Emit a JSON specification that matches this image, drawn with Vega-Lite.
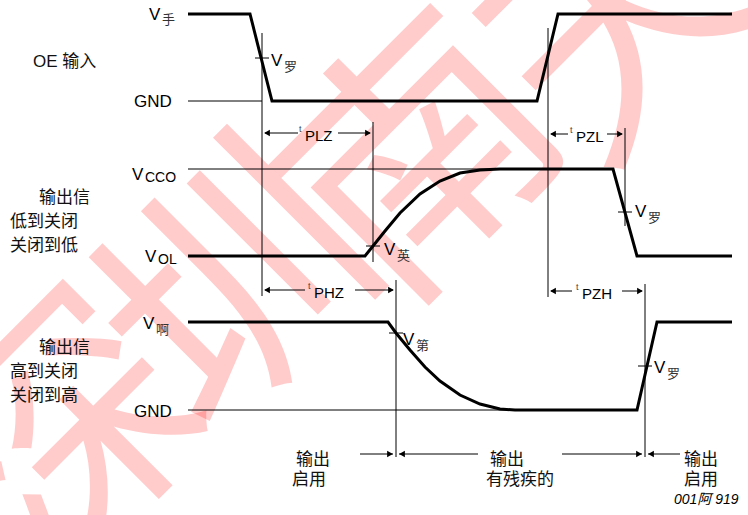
{
  "$schema": "https://vega.github.io/schema/vega-lite/v6.json",
  "width": 748,
  "height": 515,
  "padding": 0,
  "autosize": {"type": "none"},
  "background": "white",
  "config": {"view": {"stroke": null}},
  "datasets": {
    "wave": [
      {"id": "A", "o": 1, "x": 188, "y": 14}, {"id": "A", "o": 2, "x": 250, "y": 14}, {"id": "A", "o": 3, "x": 272, "y": 101},
      {"id": "A", "o": 4, "x": 537, "y": 101}, {"id": "A", "o": 5, "x": 558, "y": 14}, {"id": "A", "o": 6, "x": 732, "y": 14},
      {"id": "B", "o": 1, "x": 188, "y": 256}, {"id": "B", "o": 2, "x": 365, "y": 256}, {"id": "B", "o": 3, "x": 373, "y": 246},
      {"id": "B", "o": 4, "x": 385, "y": 231}, {"id": "B", "o": 5, "x": 400, "y": 213}, {"id": "B", "o": 6, "x": 420, "y": 194},
      {"id": "B", "o": 7, "x": 440, "y": 181}, {"id": "B", "o": 8, "x": 460, "y": 173}, {"id": "B", "o": 9, "x": 480, "y": 170},
      {"id": "B", "o": 10, "x": 500, "y": 169}, {"id": "B", "o": 11, "x": 613, "y": 169}, {"id": "B", "o": 12, "x": 637, "y": 256},
      {"id": "B", "o": 13, "x": 732, "y": 256},
      {"id": "C", "o": 1, "x": 188, "y": 322}, {"id": "C", "o": 2, "x": 388, "y": 322}, {"id": "C", "o": 3, "x": 396, "y": 333},
      {"id": "C", "o": 4, "x": 410, "y": 350}, {"id": "C", "o": 5, "x": 425, "y": 367}, {"id": "C", "o": 6, "x": 440, "y": 381},
      {"id": "C", "o": 7, "x": 460, "y": 395}, {"id": "C", "o": 8, "x": 480, "y": 404}, {"id": "C", "o": 9, "x": 500, "y": 409},
      {"id": "C", "o": 10, "x": 515, "y": 410}, {"id": "C", "o": 11, "x": 637, "y": 410}, {"id": "C", "o": 12, "x": 657, "y": 322},
      {"id": "C", "o": 13, "x": 732, "y": 322}
    ],
    "rules": [
      {"x": 188, "y": 101, "x2": 262, "y2": 101},
      {"x": 188, "y": 169, "x2": 500, "y2": 169},
      {"x": 188, "y": 410, "x2": 515, "y2": 410},
      {"x": 262, "y": 33, "x2": 262, "y2": 296},
      {"x": 548, "y": 28, "x2": 548, "y2": 297},
      {"x": 373, "y": 122, "x2": 373, "y2": 262},
      {"x": 625, "y": 128, "x2": 625, "y2": 226},
      {"x": 396, "y": 280, "x2": 396, "y2": 457},
      {"x": 645, "y": 284, "x2": 645, "y2": 457},
      {"x": 255, "y": 58, "x2": 269, "y2": 58},
      {"x": 366, "y": 246, "x2": 380, "y2": 246},
      {"x": 618, "y": 212, "x2": 632, "y2": 212},
      {"x": 389, "y": 333, "x2": 403, "y2": 333},
      {"x": 638, "y": 366, "x2": 652, "y2": 366},
      {"x": 265, "y": 133, "x2": 298, "y2": 133},
      {"x": 338, "y": 133, "x2": 370, "y2": 133},
      {"x": 551, "y": 134, "x2": 568, "y2": 134},
      {"x": 607, "y": 134, "x2": 622, "y2": 134},
      {"x": 265, "y": 290, "x2": 305, "y2": 290},
      {"x": 355, "y": 290, "x2": 393, "y2": 290},
      {"x": 551, "y": 291, "x2": 572, "y2": 291},
      {"x": 622, "y": 291, "x2": 642, "y2": 291},
      {"x": 360, "y": 454, "x2": 393, "y2": 454},
      {"x": 399, "y": 454, "x2": 478, "y2": 454},
      {"x": 562, "y": 454, "x2": 642, "y2": 454},
      {"x": 648, "y": 454, "x2": 680, "y2": 454}
    ],
    "heads": [
      {"x": 267, "y": 133, "dir": "L"}, {"x": 368, "y": 133, "dir": "R"},
      {"x": 553, "y": 134, "dir": "L"}, {"x": 620, "y": 134, "dir": "R"},
      {"x": 267, "y": 290, "dir": "L"}, {"x": 391, "y": 290, "dir": "R"},
      {"x": 553, "y": 291, "dir": "L"}, {"x": 640, "y": 291, "dir": "R"},
      {"x": 390, "y": 454, "dir": "R"}, {"x": 402, "y": 454, "dir": "L"},
      {"x": 639, "y": 454, "dir": "R"}, {"x": 651, "y": 454, "dir": "L"}
    ],
    "labels": [
      {"role": "main", "x": 149, "y": 15, "t": "V"},
      {"role": "sub", "x": 162, "y": 20, "t": "手"},
      {"role": "cjk", "x": 33, "y": 62, "t": "OE 输入"},
      {"role": "main", "x": 271, "y": 61, "t": "V"},
      {"role": "sub", "x": 284, "y": 67, "t": "罗"},
      {"role": "main", "x": 134, "y": 102, "t": "GND"},
      {"role": "tsub", "x": 299, "y": 129, "t": "t"},
      {"role": "mid", "x": 305, "y": 136, "t": "PLZ"},
      {"role": "tsub", "x": 570, "y": 130, "t": "t"},
      {"role": "mid", "x": 576, "y": 137, "t": "PZL"},
      {"role": "main", "x": 132, "y": 175, "t": "V"},
      {"role": "cco", "x": 145, "y": 178, "t": "CCO"},
      {"role": "cjk", "x": 39, "y": 198, "t": "输出信"},
      {"role": "cjk", "x": 10, "y": 222, "t": "低到关闭"},
      {"role": "cjk", "x": 10, "y": 246, "t": "关闭到低"},
      {"role": "main", "x": 145, "y": 257, "t": "V"},
      {"role": "cco", "x": 158, "y": 260, "t": "OL"},
      {"role": "main", "x": 384, "y": 250, "t": "V"},
      {"role": "sub", "x": 397, "y": 256, "t": "英"},
      {"role": "main", "x": 635, "y": 212, "t": "V"},
      {"role": "sub", "x": 648, "y": 218, "t": "罗"},
      {"role": "tsub", "x": 308, "y": 286, "t": "t"},
      {"role": "mid", "x": 314, "y": 293, "t": "PHZ"},
      {"role": "tsub", "x": 576, "y": 287, "t": "t"},
      {"role": "mid", "x": 582, "y": 294, "t": "PZH"},
      {"role": "main", "x": 143, "y": 324, "t": "V"},
      {"role": "sub", "x": 156, "y": 330, "t": "啊"},
      {"role": "cjk", "x": 39, "y": 348, "t": "输出信"},
      {"role": "cjk", "x": 10, "y": 372, "t": "高到关闭"},
      {"role": "cjk", "x": 10, "y": 396, "t": "关闭到高"},
      {"role": "main", "x": 403, "y": 340, "t": "V"},
      {"role": "sub", "x": 416, "y": 346, "t": "第"},
      {"role": "main", "x": 654, "y": 368, "t": "V"},
      {"role": "sub", "x": 667, "y": 374, "t": "罗"},
      {"role": "main", "x": 134, "y": 412, "t": "GND"},
      {"role": "cjk", "x": 296, "y": 460, "t": "输出"},
      {"role": "cjk", "x": 292, "y": 480, "t": "启用"},
      {"role": "cjk", "x": 490, "y": 460, "t": "输出"},
      {"role": "cjk", "x": 486, "y": 480, "t": "有残疾的"},
      {"role": "cjk", "x": 684, "y": 460, "t": "输出"},
      {"role": "cjk", "x": 684, "y": 480, "t": "启用"},
      {"role": "note", "x": 674, "y": 500, "t": "001阿 919"}
    ],
    "mark": [
      {"x": 75, "y": 445, "t": "深"},
      {"x": 245, "y": 295, "t": "圳"},
      {"x": 430, "y": 165, "t": "南"},
      {"x": 630, "y": 25, "t": "天"}
    ]
  },
  "encoding": {
    "x": {"field": "x", "type": "quantitative", "scale": {"domain": [0, 748], "nice": false, "zero": false}, "axis": null},
    "y": {"field": "y", "type": "quantitative", "scale": {"domain": [0, 515], "reverse": true, "nice": false, "zero": false}, "axis": null}
  },
  "layer": [
    {
      "data": {"name": "mark"},
      "mark": {"type": "text", "fontSize": 260, "font": "Noto Sans CJK SC", "fontWeight": "normal", "color": "#ff0000", "opacity": 0.2, "angle": -45, "align": "center", "baseline": "middle"},
      "encoding": {"text": {"field": "t"}}
    },
    {
      "data": {"name": "rules"},
      "mark": {"type": "rule", "color": "black", "strokeWidth": 1},
      "encoding": {"x2": {"field": "x2"}, "y2": {"field": "y2"}}
    },
    {
      "data": {"name": "wave"},
      "mark": {"type": "line", "color": "black", "strokeWidth": 3, "strokeJoin": "miter"},
      "encoding": {"detail": {"field": "id"}, "order": {"field": "o", "type": "quantitative"}}
    },
    {
      "data": {"name": "heads"},
      "mark": {"type": "point", "filled": true, "color": "black", "opacity": 1, "size": 45},
      "encoding": {"shape": {"field": "dir", "type": "nominal", "scale": {"domain": ["L", "R"], "range": ["triangle-left", "triangle-right"]}, "legend": null}}
    },
    {
      "data": {"name": "labels"},
      "transform": [{"filter": "datum.role == 'main'"}],
      "mark": {"type": "text", "fontSize": 17, "font": "Liberation Sans", "align": "left", "baseline": "middle", "color": "black"},
      "encoding": {"text": {"field": "t"}}
    },
    {
      "data": {"name": "labels"},
      "transform": [{"filter": "datum.role == 'cco'"}],
      "mark": {"type": "text", "fontSize": 14, "font": "Liberation Sans", "align": "left", "baseline": "middle", "color": "black"},
      "encoding": {"text": {"field": "t"}}
    },
    {
      "data": {"name": "labels"},
      "transform": [{"filter": "datum.role == 'mid'"}],
      "mark": {"type": "text", "fontSize": 15, "font": "Liberation Sans", "align": "left", "baseline": "middle", "color": "black"},
      "encoding": {"text": {"field": "t"}}
    },
    {
      "data": {"name": "labels"},
      "transform": [{"filter": "datum.role == 'tsub'"}],
      "mark": {"type": "text", "fontSize": 9, "font": "Liberation Sans", "align": "left", "baseline": "middle", "color": "#444"},
      "encoding": {"text": {"field": "t"}}
    },
    {
      "data": {"name": "labels"},
      "transform": [{"filter": "datum.role == 'sub'"}],
      "mark": {"type": "text", "fontSize": 13, "font": "Noto Sans CJK SC", "align": "left", "baseline": "middle", "color": "#333"},
      "encoding": {"text": {"field": "t"}}
    },
    {
      "data": {"name": "labels"},
      "transform": [{"filter": "datum.role == 'cjk'"}],
      "mark": {"type": "text", "fontSize": 17, "font": "Liberation Sans, Noto Sans CJK SC", "align": "left", "baseline": "middle", "color": "#111"},
      "encoding": {"text": {"field": "t"}}
    },
    {
      "data": {"name": "labels"},
      "transform": [{"filter": "datum.role == 'note'"}],
      "mark": {"type": "text", "fontSize": 14, "font": "Liberation Sans, Noto Sans CJK SC", "fontStyle": "italic", "align": "left", "baseline": "middle", "color": "black"},
      "encoding": {"text": {"field": "t"}}
    }
  ]
}
